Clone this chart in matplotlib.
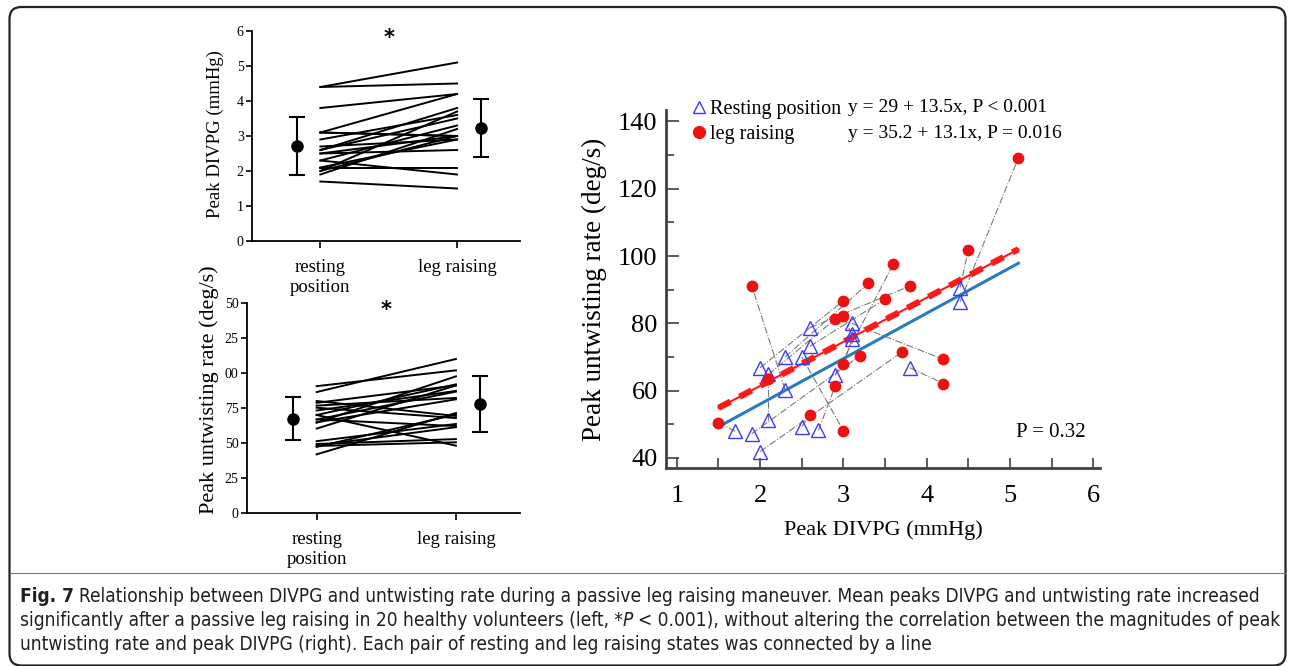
import matplotlib
matplotlib.use("Agg")
import matplotlib.pyplot as plt
from matplotlib.lines import Line2D
from matplotlib.patches import FancyBboxPatch
from matplotlib.ticker import MultipleLocator
import numpy as np

# one entry per volunteer: resting position vs leg raising
rest_divpg = [1.7, 2.3, 2.1, 2.5, 2.5, 2.7, 4.4, 4.4, 3.8, 3.1, 2.0, 1.9, 2.0, 2.1, 2.3, 2.6, 2.6, 2.9, 3.1, 3.1]
rest_rate = [47.9, 60.3, 51.3, 70.0, 49.3, 48.2, 86.4, 90.6, 66.8, 80.0, 41.9, 47.2, 66.8, 64.8, 70.0, 78.7, 73.2, 64.5, 76.7, 75.2]
leg_divpg = [1.5, 1.9, 2.1, 3.0, 2.6, 2.9, 5.1, 4.5, 4.2, 4.2, 3.7, 3.2, 3.0, 2.9, 3.3, 3.8, 3.5, 3.6, 3.0, 3.0]
leg_rate = [50.5, 91.1, 63.6, 48.1, 52.8, 61.3, 129.2, 101.9, 62.1, 69.3, 71.4, 70.4, 86.7, 81.2, 91.9, 91.1, 87.2, 97.6, 82.2, 67.8]
# the left panel shows the 7th volunteer's leg raising rate at ~110
leg_rate_left = leg_rate[:6] + [110.0] + leg_rate[7:]

group_labels = ["resting\nposition", "leg raising"]
divpg_mean = [2.72, 3.22]
divpg_sd = [0.82, 0.83]
rate_mean = [67.5, 77.8]
rate_sd = [15.5, 20.2]

# regression lines (resting, leg raising)
fit_intercept = [29.0, 35.2]
fit_slope = [13.5, 13.1]
fit_text = ["y = 29 + 13.5x, P < 0.001", "y = 35.2 + 13.1x, P = 0.016"]

W, H = 1292, 666
plt.rcParams["font.family"] = ["Liberation Serif", "DejaVu Serif"]
fig = plt.figure(figsize=(W / 100, H / 100), dpi=100)


def left_panel(rect, rest, leg, mean, sd, ylim, yticks, yticklabels, ylabel, ylabel_size, label_xy):
    ax = fig.add_axes(rect)
    for r, l in zip(rest, leg):
        ax.plot([0, 1], [r, l], color="k", lw=1.4)
    ax.errorbar([-0.17, 1.175], mean, yerr=sd, fmt="o", color="k", ms=8,
                capsize=6, elinewidth=1.5, capthick=1.5)
    ax.set_xlim(-0.5, 1.46)
    ax.set_ylim(*ylim)
    ax.set_yticks(yticks)
    ax.set_yticklabels(yticklabels, fontsize=10)
    ax.set_xticks([0, 1])
    ax.set_xticklabels(group_labels, fontsize=13.5, linespacing=1.25)
    ax.tick_params(axis="x", length=5, width=1.2, pad=8)
    ax.tick_params(axis="y", length=4, width=1.2, pad=2)
    for s in ["top", "right"]:
        ax.spines[s].set_visible(False)
    for s in ["left", "bottom"]:
        ax.spines[s].set_linewidth(1.3)
    ax.set_ylabel(ylabel, fontsize=ylabel_size)
    ax.yaxis.set_label_coords(*label_xy)
    ax.text(0.51, 0.965, "*", transform=ax.transAxes, ha="center", va="center",
            fontsize=15, fontweight="bold", family="DejaVu Sans")
    return ax


left_panel([252 / W, 1 - 241 / H, 268 / W, 210 / H], rest_divpg, leg_divpg,
           divpg_mean, divpg_sd, (0, 6), range(0, 7), [str(v) for v in range(0, 7)],
           "Peak DIVPG (mmHg)", 13.5, (-0.103, 0.51))
left_panel([247 / W, 1 - 513 / H, 273 / W, 210 / H], rest_rate, leg_rate_left,
           rate_mean, rate_sd, (0, 150), range(0, 151, 25),
           ["0", "25", "50", "75", "00", "25", "50"],
           "Peak untwisting rate (deg/s)", 16, (-0.102, 0.585))

# right: scatter of rate vs DIVPG
ax = fig.add_axes([666 / W, 1 - 468 / H, 434 / W, 358 / H])
for x0, y0, x1, y1 in zip(rest_divpg, rest_rate, leg_divpg, leg_rate):
    ax.plot([x0, x1], [y0, y1], color="#7a7a7a", lw=0.8, ls="-.", zorder=1)

xs = np.array([min(rest_divpg + leg_divpg), max(rest_divpg + leg_divpg)])
ax.plot(xs, fit_intercept[0] + fit_slope[0] * xs, color="#2b7bba", lw=2.2, zorder=3)
ax.plot(xs, fit_intercept[1] + fit_slope[1] * xs, color="#ff1a1a", lw=1.5, zorder=3)
ax.plot(xs, fit_intercept[1] + fit_slope[1] * xs, color="#ff1a1a", lw=4.5,
        ls=(0, (2.2, 1.6)), zorder=3)

ax.plot(rest_divpg, rest_rate, "^", ms=10, mfc="none", mec="#3b3bff", mew=1.0, zorder=4)
ax.plot(leg_divpg, leg_rate, "o", ms=8.5, color="#ee1111", mec="none", zorder=4)

ax.set_xlim(0.87, 6.08)
ax.set_ylim(37, 143.4)
ax.xaxis.set_major_locator(MultipleLocator(1))
ax.xaxis.set_minor_locator(MultipleLocator(0.5))
ax.yaxis.set_major_locator(MultipleLocator(20))
ax.yaxis.set_minor_locator(MultipleLocator(10))
ax.tick_params(which="both", direction="in", width=1.2, color="#404040", labelsize=19)
ax.tick_params(which="major", length=9)
ax.tick_params(which="minor", length=6)
ax.tick_params(axis="x", which="both", length=7, pad=12)
ax.tick_params(axis="y", pad=6)
for s in ["top", "right"]:
    ax.spines[s].set_visible(False)
for s in ["left", "bottom"]:
    ax.spines[s].set_linewidth(2)
    ax.spines[s].set_color("#404040")
ax.set_xlabel("Peak DIVPG (mmHg)", fontsize=16, labelpad=10)
ax.set_ylabel("Peak untwisting rate (deg/s)", fontsize=19.5, labelpad=8)

handles = [Line2D([], [], ls="none", marker="^", ms=9, mfc="none", mec="#3b3bff"),
           Line2D([], [], ls="none", marker="o", ms=9.5, color="#ee1111", mec="none")]
ax.legend(handles, ["Resting position", "leg raising"], loc="upper left",
          bbox_to_anchor=(0.035, 1.05), frameon=False, fontsize=14.5,
          handletextpad=0.05, handlelength=1.0, labelspacing=0.3, borderaxespad=0)
ax.text(0.419, 1.008, fit_text[0], transform=ax.transAxes, fontsize=14, va="center")
ax.text(0.419, 0.933, fit_text[1], transform=ax.transAxes, fontsize=14, va="center")
ax.text(0.968, 0.098, "P = 0.32", transform=ax.transAxes, fontsize=15,
        ha="right", va="center")

# frame and caption
fig.patches.append(FancyBboxPatch((0.095, 0.005), 12.76, 6.585,
                                  boxstyle="round,pad=0,rounding_size=0.12",
                                  transform=fig.dpi_scale_trans, fill=False,
                                  lw=1.6, ec="#222222"))
fig.add_artist(Line2D([10 / W, 1285 / W], [1 - 573 / H, 1 - 573 / H],
                      color="#777777", lw=0.8, transform=fig.transFigure))

renderer = fig.canvas.get_renderer()

# (text, weight, style, space before)
caption = [
    [("Fig. 7", "bold", "normal", 0),
     ("Relationship between DIVPG and untwisting rate during a passive leg raising maneuver. "
      "Mean peaks DIVPG and untwisting rate increased", "normal", "normal", 1)],
    [("significantly after a passive leg raising in 20 healthy volunteers (left, *", "normal", "normal", 0),
     ("P", "normal", "italic", 0),
     ("< 0.001), without altering the correlation between the magnitudes of peak", "normal", "normal", 1)],
    [("untwisting rate and peak DIVPG (right). Each pair of resting and leg raising states "
      "was connected by a line", "normal", "normal", 0)],
]


def draw_line(y, runs, size, keep=True):
    x = 20
    space = size * 100 / 72 * 0.26
    made = []
    for txt, weight, style, gap in runs:
        x += gap * space
        t = fig.text(x / W, 1 - y / H, txt, fontsize=size, family="DejaVu Sans",
                     fontstretch="condensed", fontweight=weight, fontstyle=style,
                     va="center", color="#231f20")
        made.append(t)
        x = t.get_window_extent(renderer).x1
    if not keep:
        for t in made:
            t.remove()
    return x


# fit font size so the widest line spans the caption width
base = 12
widest = max(draw_line(600, runs, base, keep=False) for runs in caption)
size = base * (1276 - 20) / (widest - 20)
for y, runs in zip([597, 621, 645], caption):
    draw_line(y, runs, size)

fig.savefig("out.png", dpi=100)
